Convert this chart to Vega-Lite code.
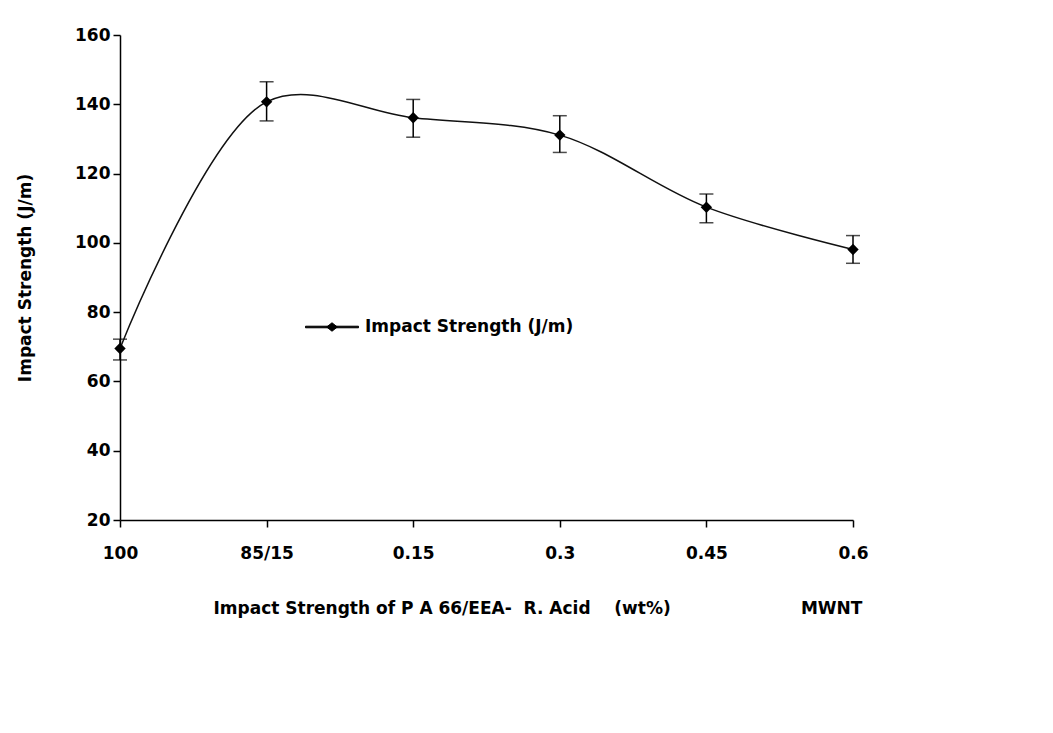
{
  "$schema": "https://vega.github.io/schema/vega-lite/v6.json",
  "width": 733,
  "height": 485,
  "autosize": {"type": "none"},
  "padding": {"left": 120, "top": 35, "right": 200, "bottom": 213},
  "background": "white",
  "config": {
    "view": {"stroke": null},
    "font": "DejaVu Sans",
    "axis": {
      "domainColor": "black",
      "domainWidth": 1.5,
      "tickColor": "black",
      "tickWidth": 1.5,
      "tickSize": 7,
      "grid": false,
      "labelFont": "DejaVu Sans",
      "labelFontSize": 17,
      "labelFontWeight": "bold",
      "labelColor": "black",
      "titleFont": "DejaVu Sans",
      "titleFontSize": 17,
      "titleFontWeight": "bold",
      "titleColor": "black"
    }
  },
  "data": {
    "values": [
      {"comp": "100", "v": 69.5, "lo": 66.2, "hi": 72.2, "series": "Impact Strength (J/m)"},
      {"comp": "85/15", "v": 140.7, "lo": 135.2, "hi": 146.5, "series": "Impact Strength (J/m)"},
      {"comp": "0.15", "v": 136.1, "lo": 130.5, "hi": 141.4, "series": "Impact Strength (J/m)"},
      {"comp": "0.3", "v": 131.1, "lo": 126.1, "hi": 136.7, "series": "Impact Strength (J/m)"},
      {"comp": "0.45", "v": 110.3, "lo": 105.8, "hi": 114.1, "series": "Impact Strength (J/m)"},
      {"comp": "0.6", "v": 98.1, "lo": 94.1, "hi": 102.1, "series": "Impact Strength (J/m)"}
    ]
  },
  "encoding": {
    "x": {
      "field": "comp",
      "type": "ordinal",
      "sort": null,
      "scale": {"type": "point", "padding": 0},
      "axis": {
        "labelAngle": 0,
        "labelPadding": 18,
        "tickSize": 7,
        "title": "Impact Strength of P A 66/EEA-\u00a0\u00a0R. Acid\u00a0\u00a0\u00a0\u00a0(wt%)\u00a0\u00a0\u00a0\u00a0\u00a0\u00a0\u00a0\u00a0\u00a0\u00a0\u00a0\u00a0\u00a0\u00a0\u00a0\u00a0\u00a0\u00a0\u00a0\u00a0\u00a0\u00a0MWNT",
        "titleAnchor": "start",
        "titleAlign": "left",
        "titleX": 93,
        "titleY": 93,
        "titleBaseline": "alphabetic"
      }
    }
  },
  "layer": [
    {
      "mark": {"type": "rule", "color": "black", "strokeWidth": 1.5},
      "encoding": {
        "y": {"field": "lo", "type": "quantitative"},
        "y2": {"field": "hi"}
      }
    },
    {
      "mark": {"type": "tick", "color": "black", "size": 14, "thickness": 1.5, "orient": "horizontal"},
      "encoding": {"y": {"field": "lo", "type": "quantitative"}}
    },
    {
      "mark": {"type": "tick", "color": "black", "size": 14, "thickness": 1.5, "orient": "horizontal"},
      "encoding": {"y": {"field": "hi", "type": "quantitative"}}
    },
    {
      "mark": {"type": "line", "interpolate": "catmull-rom", "color": "#111111", "strokeWidth": 1.5},
      "encoding": {
        "y": {
          "field": "v",
          "type": "quantitative",
          "scale": {"domain": [20, 160], "nice": false, "zero": false},
          "axis": {
            "values": [20, 40, 60, 80, 100, 120, 140, 160],
            "labelPadding": 3,
            "title": "Impact Strength (J/m)",
            "titleX": -95,
            "titleBaseline": "middle"
          }
        }
      }
    },
    {
      "mark": {"type": "point", "shape": "diamond", "filled": true, "size": 130, "opacity": 1},
      "encoding": {
        "y": {"field": "v", "type": "quantitative"},
        "color": {
          "field": "series",
          "type": "nominal",
          "scale": {"range": ["black"]},
          "legend": {
            "orient": "none",
            "legendX": 185,
            "legendY": 265,
            "title": null,
            "symbolType": "M-1,-0.03L1,-0.03L1,0.03L-1,0.03ZM-0.2,0L0,-0.16L0.2,0L0,0.16Z",
            "symbolSize": 2809,
            "symbolStrokeColor": "black",
            "symbolFillColor": "black",
            "symbolStrokeWidth": 1,
            "labelFont": "DejaVu Sans",
            "labelFontSize": 17,
            "labelFontWeight": "bold",
            "labelColor": "black",
            "labelOffset": 6,
            "labelLimit": 0,
            "encode": {
              "symbols": {
                "update": {
                  "shape": {"value": "M-1,-0.03L1,-0.03L1,0.03L-1,0.03ZM-0.2,0L0,-0.16L0.2,0L0,0.16Z"},
                  "fill": {"value": "black"},
                  "opacity": {"value": 1},
                  "size": {"value": 2809}
                }
              }
            }
          }
        }
      }
    }
  ]
}
